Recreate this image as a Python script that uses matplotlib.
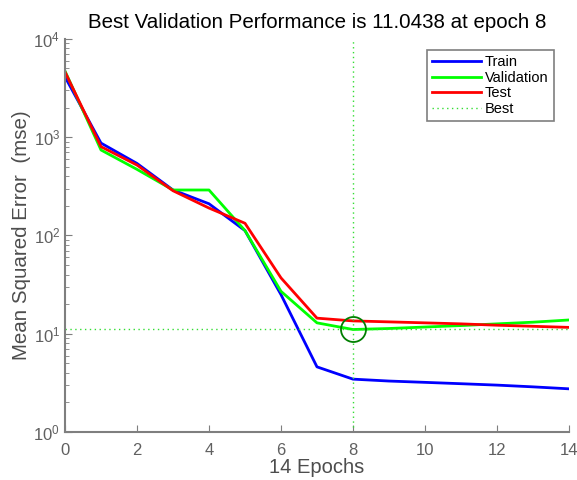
import matplotlib
matplotlib.use('Agg')
from matplotlib import pyplot as plt
import numpy as np

plt.rcParams['font.family'] = ['Liberation Sans', 'DejaVu Sans']

# mse per epoch
epochs = list(range(15))
train_mse = [4100, 870, 540, 290, 210, 112, 25, 4.6, 3.45, 3.3, 3.2, 3.1, 3.0, 2.88, 2.75]
valid_mse = [4700, 740, 470, 290, 290, 112, 27, 12.9, 11.0438, 11.3, 11.7, 12.1, 12.6, 13.1, 13.8]
test_mse = [4600, 800, 520, 285, 190, 133, 37, 14.4, 13.5, 13.2, 12.9, 12.6, 12.2, 11.9, 11.6]

best_epoch = 8
best_perf = 11.0438
n_epochs = 14

grey = '#7f7f7f'
label_grey = '#4d4d4d'

fig = plt.figure(figsize=(5.77, 4.8), dpi=100)
ax = fig.add_axes([0.1127, 0.1, 0.8733, 0.819])

ax.semilogy(epochs, train_mse, color='#0000ff', lw=2, label='Train')
ax.semilogy(epochs, valid_mse, color='#00ff00', lw=2, label='Validation')
ax.semilogy(epochs, test_mse, color='#ff0000', lw=2, label='Test')
ax.axvline(best_epoch, color='#33dd33', lw=1, ls=(0, (1, 2.5)), label='Best')
ax.axhline(best_perf, color='#33dd33', lw=1, ls=(0, (1, 2.5)))
ax.plot(best_epoch, best_perf, 'o', ms=18, mfc='none', mec='#007f00', mew=1.3)

ax.set_xlim(0, n_epochs)
ax.set_ylim(1, 1e4)
ax.set_xticks(range(0, 15, 2))

for s in ['top', 'right']:
    ax.spines[s].set_visible(False)
for s in ['left', 'bottom']:
    ax.spines[s].set_color(grey)
    ax.spines[s].set_linewidth(1.5)
ax.tick_params(which='both', direction='in', colors=grey, labelcolor='#606060', labelsize=12)
ax.tick_params(axis='x', pad=8)
ax.tick_params(which='major', length=5)
ax.tick_params(which='minor', length=3)

ax.set_title('Best Validation Performance is %.4f at epoch %d' % (best_perf, best_epoch),
             fontsize=14.8, pad=8)
ax.set_xlabel('%d Epochs' % n_epochs, fontsize=14.5, color=label_grey, labelpad=0)
ax.set_ylabel('Mean Squared Error  (mse)', fontsize=14.8, color=label_grey, labelpad=2)

leg = ax.legend(loc='upper right', bbox_to_anchor=(0.97, 0.972), borderaxespad=0,
                fontsize=10.5, handlelength=3.35, handletextpad=0.3, borderpad=0.35,
                labelspacing=0.12, fancybox=False, framealpha=1)
leg.get_frame().set_edgecolor(grey)
leg.get_frame().set_linewidth(1.2)

plt.savefig('out.png', dpi=100)
